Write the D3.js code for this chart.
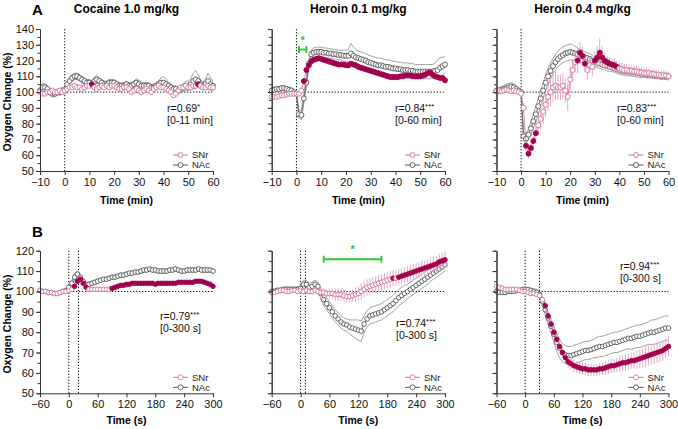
<!DOCTYPE html>
<html><head><meta charset="utf-8">
<script src="https://cdn.jsdelivr.net/npm/d3@7"></script>
<style>
body{margin:0;background:#fff}
svg{display:block;font-family:"Liberation Sans",Arial,Helvetica,sans-serif}
</style>
</head><body>
<svg id="chart" width="678" height="429"></svg>
<script>
// ---------------- DATA ----------------
const timeMin = d3.range(-10, 61, 1);     // sample times, min (panels A)
const timeSec = d3.range(-60, 301, 6);    // sample times, s (panels B)
const xTicksMin = [-10,0,10,20,30,40,50,60];
const xTicksSec = [-60,0,60,120,180,240,300];
const yTicksA = [50,60,70,80,90,100,110,120,130,140];
const yTicksB = [50,60,70,80,90,100,110,120];
const titles = ["Cocaine 1.0 mg/kg","Heroin 0.1 mg/kg","Heroin 0.4 mg/kg"];
const rowLabels = ["A","B"];
const legendLabels = ["SNr","NAc"];
const corrR = ["r=0.69","r=0.84","r=0.83","r=0.79","r=0.74","r=0.94"];
const corrStars = ["*","***","***","***","***","***"];
const corrWin = ["[0-11 min]","[0-60 min]","[0-60 min]","[0-300 s]","[0-300 s]","[0-300 s]"];
const injA = [0];
const injB1 = [0,20], injB2 = [0,10], injB3 = [0,30];

// Panel A1 - Cocaine 1.0 mg/kg (min)
const snrA1 = [100,99,99,100,100,101,100,100,101,100, 101,102,103,103,104,103,103,102,103,104,
  104,105,103,102,103,104,103,104,103,104, 104,103,102,102,103,103,102,100,101,102,
  101,100,101,102,101,100,102,103,104,103, 103,102,101,100,98,99,101,103,103,104,
  103,103,104,104,105,104,103,103,104,103, 103];
const snrA1Sem = [1,1,1,1,1,1,1,1,1,1, 1,1.5,1.5,1.5,1.5,1.5,1.5,1.5,1.5,1.5,
  1.5,1.5,1.5,1.5,1.5,1.5,1.5,1.5,1.5,1.5, 1.5,1.5,1.5,1.5,1.5,1.5,1.5,1.5,1.5,1.5,
  1.5,1.5,1.5,1.5,1.5,1.5,1.5,1.5,1.5,1.5, 1.5,1.5,1.5,1.5,1.5,1.5,1.5,1.5,1.5,1.5,
  1.5,1.5,1.5,1.5,1.5,1.5,1.5,1.5,1.5,1.5, 1.5];
const nacA1 = [101,103,103,102,100,99,99,100,100,101, 101,105,107,109,110,110,109,108,107,106,
  106,105,107,108,107,106,105,105,106,106, 106,105,104,104,104,105,104,104,105,106,
  105,104,104,104,104,103,103,104,105,106, 106,105,104,103,102,102,101,102,103,104,
  104,105,107,108,107,105,104,105,107,105, 104];
const nacA1Sem = [2,2.5,2.5,2,2,2,2,2,2,2, 2,2,2,2,2,2,2,2,2,2,
  2,2,2.5,2.5,2,2,2,2,2,2, 2,2,2,2,2,2,2,2,2,2.5,
  2.5,2.5,2,2,2,2,2,2,2.5,3, 4,3,2.5,2,2,2,2,2,2.5,3,
  3,3.5,5,5.5,4,3,2.5,3.5,5,4, 3];
const sigA1 = [[11,11],[54,54]];

// Panel A2 - Heroin 0.1 mg/kg (min)
const snrA2 = [97,97,97,97.5,98,98,98.5,99,99,99, 99,99,101,107,114,117,119.5,120.5,121,121.5,
  121,120.5,120,119.5,119,118.5,118,117.5,117.5,117.5, 117,117,118,117.5,117,116,115.5,115,114.5,114,
  113.5,113,112.5,112,111.5,111,110.5,110,109.5,109.5, 109.5,109.5,110,110,110.5,110.5,110.5,110,110,110,
  110,110.5,111,112,112.5,111,110,109.5,109,109, 107.5];
const snrA2Sem = [1.5,1.5,1.5,1.5,1.5,1.5,1.5,1.5,1.5,1.5, 1.5,1.5,2,2,2,2,2,2,2,2,
  2,2,2,2,2,2,2,2,2,2, 2,2,2,2,2,2,2,2,2,2,
  2,2,2,2,2,2,2,2,2,2, 2,2,2,2,2,2,2,2,2,2,
  2,2,2,2,2,2,2,2,2,2, 2];
const nacA2 = [101,101.5,102,102,102.5,102.5,102,101.5,101,100, 99,86,85.5,96,106,118,124,125,125.5,125.5,
  125.5,125,125,124.5,124.5,124,124,123.5,123.5,123, 123,123,124.5,123,122,121.5,121,120.5,120,119,
  118.5,118,117.5,117,117,116.5,116,116,115.5,115, 115,114.5,114.5,114,114,114,113.5,113.5,113,113,
  113,113,113,113,113,113,113.5,114,115.5,116.5, 117.5];
const nacA2Sem = [1.5,1.5,1.5,1.5,1.5,1.5,1.5,1.5,1.5,1.5, 1.5,2.5,3,3,3,3,3,3,3,3,
  3,3,3,3,3,3,3,3,3,3.5, 3.5,4,6.5,5.5,5,4.5,4.5,4.5,4.5,4.5,
  4.5,4.5,4.5,4.5,4.5,4.5,4.5,4.5,4.5,4.5, 4.5,4.5,4.5,4.5,4.5,4.5,4.5,4.5,4.5,4.5,
  4.5,4.5,4.5,4.5,4.5,4.5,5,6,6.5,5.5, 5];
const sigA2 = [[3,60]];
const sigBarA2 = [1,4];

// Panel A3 - Heroin 0.4 mg/kg (min)
const snrA3 = [100.5,101,100.5,101,101.5,101,100.5,101,100.5,100, 99,90,66,61,64.5,69,74,79,83,87.5,
  92,97,100,103,104,103,103,104,101,97, 108,114,119,120,125,123,118,114,117,116,
  120,122,125,122,120,119,118,117.5,117,116, 115,114.5,114,114,113.5,113.5,113,113,112.5,112.5,
  112,112,112,111.5,111.5,111,111,110.5,110.5,110.5, 110];
const snrA3Sem = [1.5,1.5,1.5,1.5,1.5,1.5,1.5,1.5,1.5,1.5, 1.5,3,3,3,3,3,4,6,7,8,
  8,9,9,9,9,8,8,8,8,9, 8,7,6,8,7,6,5,6,5,6,
  6,7,9,7,5,4,4,4,4,4, 4,4,4,3.5,3.5,3.5,3.5,3.5,3.5,3.5,
  3,3,3,3,3,3,3,3,3,3, 3];
const nacA3 = [101,101,101.5,102,102.5,103,103.5,103,102,101, 100,72,70.5,73,77,81.5,86,91,96,101,
  106,110,113.5,116.5,119,121,122.5,123.5,124.5,125, 125.5,125,124.5,124,123,122.5,122,121.5,121,120,
  119,118.5,118,117.5,117,116.5,116,115.5,115,114.5, 114,113.5,113.5,113,113,112.5,112.5,112,112,111.5,
  111.5,111,111,111,110.5,110.5,110.5,110,110,110, 110];
const nacA3Sem = [1.5,1.5,2,2,2.5,2.5,2.5,2.5,2,1.5, 1.5,3,3,3.5,4,4.5,5,5,5,5,
  5,5,5,5,5,5,5,5,5,5, 5,5,4.5,4,4,4,3.5,3.5,3.5,3.5,
  3,3,3,3,3,3,3,2.5,2.5,2.5, 2.5,2.5,2.5,2.5,2.5,2.5,2.5,2.5,2.5,2.5,
  2,2,2,2,2,2,2,2,2,2, 2];
const sigA3 = [[2,6],[23,26],[30,39]];

// Panel B1 - Cocaine 1.0 mg/kg (s)
const snrB1 = [100.5,100,100,99.5,99.5,99,99,99.5,100,100, 100.5,101,102.5,105,106,104,102,101,101,101,
  101,101,101,101,101,101.5,102,102.5,103,103, 103.5,103.5,104,104,104,104,104,104,104,104,
  103.5,104,104,104,104,104,104,104,104.5,104.5, 104.5,104.5,104.5,104.5,105,105,105,104.5,104,103.5,
  102.5];
const snrB1Sem = [0.6,0.6,0.6,0.6,0.6,0.6,0.6,0.6,0.6,0.6, 0.6,0.8,1,1,1,1,1,0.8,0.8,0.8,
  0.8,0.8,0.8,0.8,0.8,0.8,0.8,0.8,0.8,0.8, 0.8,0.8,0.8,0.8,0.8,0.8,0.8,0.8,0.8,0.8,
  0.8,0.8,0.8,0.8,0.8,0.8,0.8,0.8,0.8,0.8, 0.8,0.8,0.8,0.8,0.8,0.8,0.8,0.8,0.8,0.8,
  0.8];
const nacB1 = [100.5,100,100,99.5,99.5,99,99,99.5,100,100.5, 102,104,107,108.5,107,105,103.5,103.5,104,104.5,
  105,105.5,106,106,106.5,107,107,107.5,108,108, 108.5,109,109,109.5,109.5,110,110.5,110.5,111,110.5,
  110.5,110,110,110,110,110.5,110.5,111,110.5,110, 110,110.5,110.5,110.5,110.5,111,110.5,110.5,110.5,110.5,
  110];
const nacB1Sem = [0.8,0.8,0.8,0.8,0.8,0.8,0.8,0.8,0.8,0.8, 1,1.2,1.5,1.5,1.5,1.2,1,1,1,1,
  1,1,1,1,1,1,1,1,1,1, 1,1,1,1,1,1,1,1,1,1,
  1,1,1,1,1,1,1,1,1,1, 1,1,1,1,1,1,1,1,1,1,
  1];
const sigB1 = [[12,36],[90,300]];

// Panel B2 - Heroin 0.1 mg/kg (s)
const snrB2 = [99.5,99.5,100,100.5,100.5,100,100,100.5,100.5,100, 100.5,100,100.5,100,100,100.5,100,99.5,99.5,99,
  99,99,98.5,98.5,98.5,98,97.5,97.5,98,98.5, 99,100,101,102,102.5,103,103.5,104,104.5,105,
  105.5,106,106.5,106.5,107,107.5,108,108.5,109,109.5, 110,110.5,111,111.5,112,112.5,113,113.5,114.5,115,
  115.5];
const snrB2Sem = [1,1,1,1,1,1,1,1,1,1, 1.5,1.5,1.5,1.5,1.5,1.5,1.5,2,2,2,
  2.5,2.5,3,3,3,3,3,3,3,3.5, 3.5,4,4,4,4,4,4,4,4,4,
  4,4,4,4,4,4,4,4,4,4, 4,4,4,4,4,4,4,4,4,4,
  4];
const nacB2 = [100,100,100.5,100.5,101,101,101,101,101,101, 101.5,103.5,103.5,102,102.5,103.5,102.5,99,96,94,
  92,90,88,86.5,85,84,83.5,82.5,82,81.5, 81,80.5,84,86.5,88,88.5,89,89.5,90,91,
  92,93,94,95.5,97,98,99,100,101,102, 103,104,105,106,107,108,109,110,111,112,
  113];
const nacB2Sem = [1.2,1.2,1.2,1.2,1.2,1.2,1.2,1.2,1.2,1.2, 1.5,2,2,2,2,2,2,2.5,3,3,
  3,3,3,3,3,3,3,3.5,4,4.5, 5,5,4,4,4,4,4,4,4,4,
  4,4,4,4,4,4,4,3.5,3.5,3.5, 3.5,3.5,3.5,3.5,3.5,3,3,3,3,3,
  3];
const sigB2 = [[192,192],[204,300]];
const sigBarB2 = [48,168];

// Panel B3 - Heroin 0.4 mg/kg (s)
const snrB3 = [102.5,102,101.5,101,101,101,101,101,100.5,100, 100,99.5,99,99,98.5,98,96,93,88,84,
  80,76.5,73,70,67.5,65.5,64.5,63.5,63,62.5, 62,62,61.5,61.5,61.5,61.5,62,62,62.5,63,
  63.5,63.5,64,64.5,65,65,65.5,66,66,66.5, 67,67.5,68,68.5,69,69.5,70,70.5,71,72,
  73];
const snrB3Sem = [1,1,1,1,1,1,1,1,1,1, 1,1,1,1,1,1,1.2,1.5,1.5,1.5,
  2,2,2.5,2.5,3,3,3,3,3,3, 3,3,3,3,3,3,3,3,3.5,3.5,
  3.5,3.5,3.5,4,4,4,4,4,4,4.5, 4.5,4.5,5,5,5,5,5,5,5,5,
  5];
const nacB3 = [100,99.5,99.5,99.5,100,100,100,100.5,100.5,101, 101,101,100.5,100,99.5,98.5,95,91,87,83,
  79,75,72,70,69,68.5,68.5,69,69.5,70, 70.5,71,71,71.5,72,72.5,73,73,73.5,74,
  74.5,75,75,75.5,76,76.5,77,77,77.5,78, 78,78.5,79,79.5,80,80,80.5,81,81.5,82,
  82];
const nacB3Sem = [1,1,1,1,1,1,1,1,1,1, 1,1,1,1.2,1.5,1.5,2,2.5,3,3.5,
  4,4.5,4.5,4.5,4.5,4.5,4.5,4.5,4.5,4.5, 4.5,4.5,4.5,4.5,4.5,5,5,5,5,5,
  5,5,5,5,5,5,5,5.5,5.5,5.5, 5.5,5.5,5.5,5.5,6,6,6,6,6,6,
  6];
const sigB3 = [[42,300]];

// ---------------- DRAWING ----------------
const C = {
  snr: "#d0739d", snrBar: "#e6a9c4", snrFill: "#a3004f",
  nac: "#555555", nacBand: "#8a8a8a", axis: "#333", green: "#2fc52f"
};
const svg = d3.select("#chart");
const colX = [[40,213],[271.7,445],[496.5,668.5]];
const rowY = [[171,29],[393.3,250.7]];

const panels = [
  {row:0,col:0,t:timeMin,snr:snrA1,snrSem:snrA1Sem,nac:nacA1,nacSem:nacA1Sem,sig:sigA1,inj:injA,corr:[167,112]},
  {row:0,col:1,t:timeMin,snr:snrA2,snrSem:snrA2Sem,nac:nacA2,nacSem:nacA2Sem,sig:sigA2,inj:injA,corr:[395,112],bar:sigBarA2,barV:127},
  {row:0,col:2,t:timeMin,snr:snrA3,snrSem:snrA3Sem,nac:nacA3,nacSem:nacA3Sem,sig:sigA3,inj:injA,corr:[617,112]},
  {row:1,col:0,t:timeSec,snr:snrB1,snrSem:snrB1Sem,nac:nacB1,nacSem:nacB1Sem,sig:sigB1,inj:injB1,corr:[160,320]},
  {row:1,col:1,t:timeSec,snr:snrB2,snrSem:snrB2Sem,nac:nacB2,nacSem:nacB2Sem,sig:sigB2,inj:injB2,corr:[396,327],bar:sigBarB2,barV:115.8},
  {row:1,col:2,t:timeSec,snr:snrB3,snrSem:snrB3Sem,nac:nacB3,nacSem:nacB3Sem,sig:sigB3,inj:injB3,corr:[620,270]}
];

panels.forEach((p,i)=>{
  const isA = p.row===0;
  const R = isA?2.5:2.3;
  const x = d3.scaleLinear().domain(isA?[-10,60]:[-60,300]).range(colX[p.col]);
  const y = d3.scaleLinear().domain(isA?[50,140]:[50,120]).range(rowY[p.row]);
  const g = svg.append("g");
  const [x0,x1] = colX[p.col]; const [yb,yt] = rowY[p.row];

  // reference lines
  g.append("line").attr("x1",x0).attr("x2",x1).attr("y1",y(100)).attr("y2",y(100))
    .attr("stroke","#111").attr("stroke-width",1).attr("stroke-dasharray","1.3,1.7");
  p.inj.forEach(v=>{
    g.append("line").attr("x1",x(v)).attr("x2",x(v)).attr("y1",yt).attr("y2",yb)
      .attr("stroke","#111").attr("stroke-width",1).attr("stroke-dasharray","1.3,1.7");
  });

  const d = p.t.map((t,k)=>({t, s:p.snr[k], ss:p.snrSem[k], n:p.nac[k], ns:p.nacSem[k],
      sig: p.sig.some(r=>t>=r[0]&&t<=r[1])}));
  const line = (f)=>d3.line().x(e=>x(e.t)).y(e=>y(f(e)));

  // NAc band
  g.append("path").datum(d).attr("d",line(e=>e.n+e.ns)).attr("fill","none").attr("stroke",C.nacBand).attr("stroke-width",0.8);
  g.append("path").datum(d).attr("d",line(e=>e.n-e.ns)).attr("fill","none").attr("stroke",C.nacBand).attr("stroke-width",0.8);
  g.append("path").datum(d).attr("d",line(e=>e.n)).attr("fill","none").attr("stroke",C.nac).attr("stroke-width",0.8);
  g.selectAll(".nc").data(d).join("circle").attr("cx",e=>x(e.t)).attr("cy",e=>y(e.n)).attr("r",R)
    .attr("fill","#fff").attr("stroke",C.nac).attr("stroke-width",0.9);

  // SNr error bars
  g.selectAll(".eb").data(d).join("line").attr("x1",e=>x(e.t)).attr("x2",e=>x(e.t))
    .attr("y1",e=>y(e.s-e.ss)).attr("y2",e=>y(e.s+e.ss)).attr("stroke",C.snrBar).attr("stroke-width",1);
  g.append("path").datum(d).attr("d",line(e=>e.s)).attr("fill","none").attr("stroke",C.snr).attr("stroke-width",0.8);
  g.selectAll(".sc").data(d).join("circle").attr("cx",e=>x(e.t)).attr("cy",e=>y(e.s)).attr("r",R)
    .attr("fill",e=>e.sig?C.snrFill:"#fff").attr("stroke",e=>e.sig?C.snrFill:C.snr).attr("stroke-width",0.9);

  // axes
  const yT = isA?yTicksA:yTicksB;
  const minorY = d3.range(yT[0], yT[yT.length-1]+0.1, 5);
  const ax = g.append("g").attr("transform",`translate(${x0},0)`)
    .call(d3.axisLeft(y).tickValues(minorY).tickSize(2.5).tickFormat("").tickSizeOuter(0));
  const ay = g.append("g").attr("transform",`translate(${x0},0)`)
    .call(d3.axisLeft(y).tickValues(yT).tickSize(4).tickPadding(2).tickSizeOuter(0)
      .tickFormat(p.col===0?d3.format("d"):""));
  const axb = g.append("g").attr("transform",`translate(0,${yb})`)
    .call(d3.axisBottom(x).tickValues(isA?xTicksMin:xTicksSec).tickSize(4).tickPadding(3).tickSizeOuter(0));
  [ax,ay,axb].forEach(a=>{
    a.selectAll("path,line").attr("stroke",C.axis).attr("stroke-width",1);
    a.selectAll("text").attr("font-size",11).attr("fill","#111").attr("font-family","Liberation Sans, Arial, sans-serif");
  });

  // x title
  g.append("text").attr("x",(x0+x1)/2).attr("y",isA?204:424).attr("text-anchor","middle")
    .attr("font-size",10.5).attr("font-weight","bold").text(isA?"Time (min)":"Time (s)");

  // legend
  legendLabels.forEach((lab,k)=>{
    const ly = yb - 16 + k*10;
    const col = k===0?C.snr:C.nac;
    g.append("line").attr("x1",x1-40).attr("x2",x1-25).attr("y1",ly).attr("y2",ly).attr("stroke",col).attr("stroke-width",1);
    g.append("circle").attr("cx",x1-32.5).attr("cy",ly).attr("r",2.5).attr("fill","#fff").attr("stroke",col).attr("stroke-width",0.9);
    g.append("text").attr("x",x1-21).attr("y",ly+3.3).attr("font-size",9.5).attr("fill","#222").text(lab);
  });

  // correlation annotation
  const ct = g.append("text").attr("x",p.corr[0]).attr("y",p.corr[1]).attr("font-size",10.5).attr("fill","#111");
  ct.append("tspan").text(corrR[i]);
  ct.append("tspan").attr("font-size",8).attr("dy",-3).text(corrStars[i]);
  g.append("text").attr("x",p.corr[0]).attr("y",p.corr[1]+11.5).attr("font-size",10.5).attr("fill","#111").text(corrWin[i]);

  // significance bar
  if(p.bar){
    const by = y(p.barV);
    g.append("line").attr("x1",x(p.bar[0])).attr("x2",x(p.bar[1])).attr("y1",by).attr("y2",by).attr("stroke",C.green).attr("stroke-width",1.8);
    p.bar.forEach(v=>g.append("line").attr("x1",x(v)).attr("x2",x(v)).attr("y1",by-3.5).attr("y2",by+3.5).attr("stroke",C.green).attr("stroke-width",1.8));
    g.append("text").attr("x",x((p.bar[0]+p.bar[1])/2)).attr("y",by-6).attr("text-anchor","middle")
      .attr("font-size",11).attr("font-weight","bold").attr("fill",C.green).text("*");
  }

  // titles
  if(isA){
    g.append("text").attr("x",(x0+x1)/2).attr("y",13).attr("text-anchor","middle")
      .attr("font-size",12).attr("font-weight","bold").text(titles[p.col]);
  }
  // y label
  if(p.col===0){
    g.append("text").attr("transform",`translate(10.5,${(yb+yt)/2+2}) rotate(-90)`).attr("text-anchor","middle")
      .attr("font-size",10.5).attr("font-weight","bold").text("Oxygen Change (%)");
    g.append("text").attr("x",32).attr("y",isA?15:237).attr("font-size",15).attr("font-weight","bold").text(rowLabels[p.row]);
  }
});
</script>
</body></html>
